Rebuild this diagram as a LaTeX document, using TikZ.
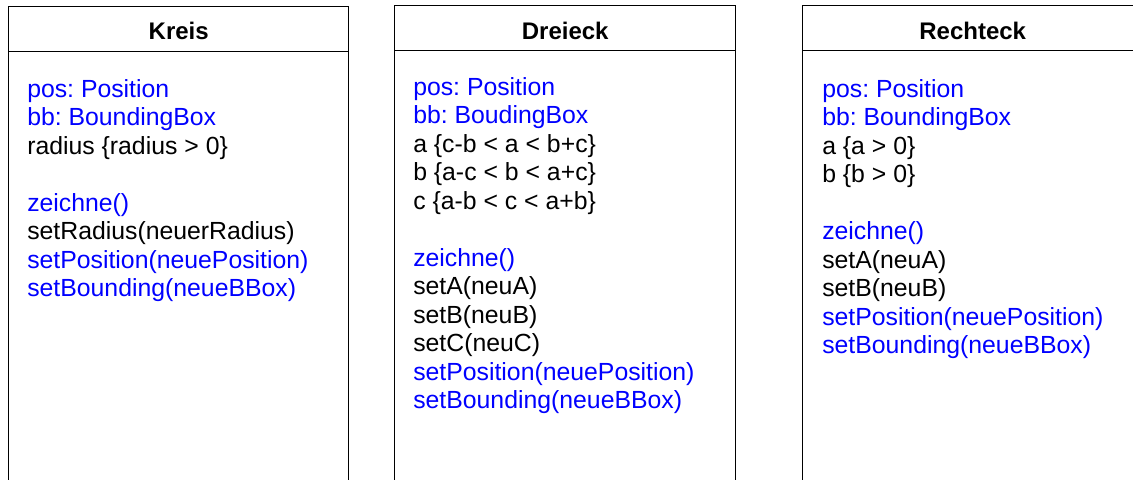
\documentclass[tikz,border=0pt]{standalone}
\usepackage{fontspec}
\setmainfont{Liberation Sans}
\definecolor{opblue}{RGB}{0,0,255}
\frenchspacing
\begin{document}
\begin{tikzpicture}[x=0.75pt,y=-0.75pt,
  classbox/.style={draw=black, line width=1.1pt, rectangle, inner sep=0pt,
    minimum width=255pt, minimum height=390pt, anchor=north west},
  title/.style={font=\bfseries\fontsize{18}{21}\selectfont, anchor=base, inner sep=0pt},
  member/.style={font=\fontsize{18.6}{21}\selectfont, anchor=base west, inner sep=0pt},
  shared/.style={member, text=opblue},
  own/.style={member, text=black}]
\useasboundingbox (0,0) rectangle (1133,479);
\clip (0,0) rectangle (1133,479);

% class boxes (they run on below the lower edge)
\node[classbox] (kreis) at (8,6) {};
\node[classbox, minimum width=255.75pt] (dreieck) at (394,5) {};
\node[classbox] (rechteck) at (802,5) {};

% title compartments
\draw[line width=1.1pt] (kreis.west |- 0,51.5) -- (kreis.east |- 0,51.5);
\draw[line width=1.1pt] (dreieck.west |- 0,50.7) -- (dreieck.east |- 0,50.7);
\draw[line width=1.1pt] (rechteck.west |- 0,50.7) -- (rechteck.east |- 0,50.7);

\node[title] (kreisT) at (kreis.north |- 0,39.5) {Kreis};
\node[title] (dreieckT) at (dreieck.north |- 0,39.5) {Dreieck};
\node[title] (rechteckT) at (rechteck.north |- 0,39.5) {Rechteck};

% Kreis members
\foreach \n/\s/\t in {0/shared/pos: Position, 1/shared/bb: BoundingBox,
    2/own/radius \{radius > 0\}, 4/shared/zeichne(), 5/own/setRadius(neuerRadius),
    6/shared/setPosition(neuePosition), 7/shared/setBounding(neueBBox)}
  \node[\s] (k\n) at (27,97+28.5*\n) {\t};

% Dreieck members
\foreach \n/\s/\t in {0/shared/pos: Position, 1/shared/bb: BoudingBox,
    2/own/a \{c-b < a < b+c\}, 3/own/b \{a-c < b < a+c\}, 4/own/c \{a-b < c < a+b\},
    6/shared/zeichne(), 7/own/setA(neuA), 8/own/setB(neuB), 9/own/setC(neuC),
    10/shared/setPosition(neuePosition), 11/shared/setBounding(neueBBox)}
  \node[\s] (d\n) at (413,95+28.5*\n) {\t};

% Rechteck members
\foreach \n/\s/\t in {0/shared/pos: Position, 1/shared/bb: BoundingBox,
    2/own/a \{a > 0\}, 3/own/b \{b > 0\}, 5/shared/zeichne(),
    6/own/setA(neuA), 7/own/setB(neuB),
    8/shared/setPosition(neuePosition), 9/shared/setBounding(neueBBox)}
  \node[\s] (r\n) at (822,97+28.5*\n) {\t};
\end{tikzpicture}
\end{document}
